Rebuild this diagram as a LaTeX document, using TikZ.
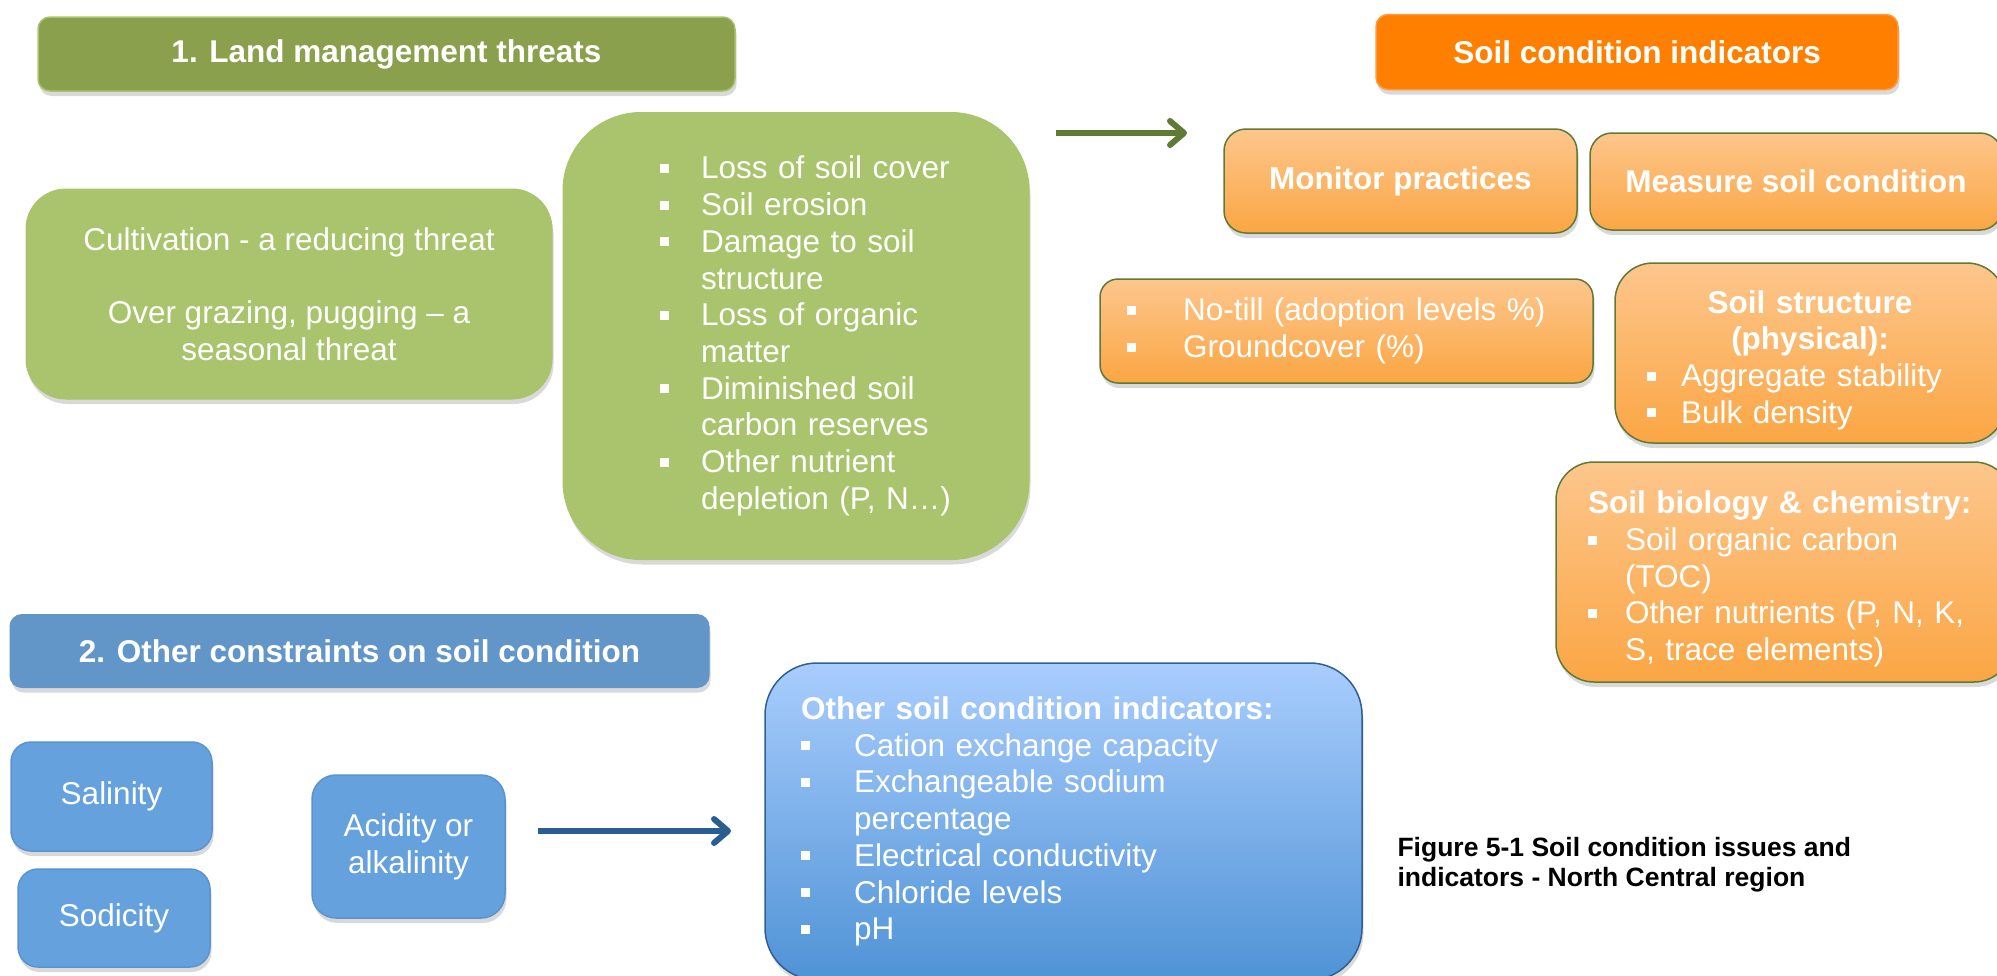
\documentclass[tikz,border=0pt]{standalone}
\usepackage{fontspec}
\setmainfont{Liberation Sans}
\usepackage{tikz}
\usetikzlibrary{shadows,arrows.meta}
\definecolor{grnhd}{HTML}{8AA04C}
\definecolor{grnfill}{HTML}{A9C46C}
\definecolor{grnarr}{HTML}{5E7A35}
\definecolor{orghd}{HTML}{FF7F00}
\definecolor{orgln}{HTML}{FF9A40}
\definecolor{orgtop}{HTML}{FDC68C}
\definecolor{orgbot}{HTML}{FBA644}
\definecolor{olv}{HTML}{5E7A35}
\definecolor{bluhd}{HTML}{6396C8}
\definecolor{blubx}{HTML}{65A1DC}
\definecolor{bluln}{HTML}{5A94D0}
\definecolor{blutop}{HTML}{A9CDFD}
\definecolor{blubot}{HTML}{4F93D6}
\definecolor{bludeep}{HTML}{2F5F93}
\definecolor{bluarr}{HTML}{2A5D90}
\newcommand{\bulsq}[1]{\makebox[#1][l]{\rule[6pt]{9pt}{9pt}}}
\newcommand{\bulin}[1]{\hspace*{#1}}

\begin{document}
\begin{tikzpicture}[x=1pt,y=-1pt,
wt/.style={text=white,font=\fontsize{31.5}{36.7}\selectfont},
wtb/.style={text=white,font=\fontsize{31.5}{36.7}\selectfont\bfseries},
shd/.style={drop shadow={opacity=0.3,shadow xshift=1.5pt,shadow yshift=-5pt}},
bx/.style n args={3}{rectangle,inner sep=0pt,rounded corners=#1,minimum width=#2,minimum height=#3,shd},
grnhead/.style={wtb,fill=grnhd,draw=grnfill,line width=1.5pt},
grnbox/.style={wt,fill=grnfill,draw=grnfill,line width=1pt},
orghead/.style={wtb,fill=orghd,draw=orgln,line width=1.5pt},
orgbox/.style={wt,top color=orgtop,bottom color=orgbot,draw=olv,line width=1.5pt},
bluhead/.style={wtb,fill=bluhd,draw=bluhd,line width=1pt},
blubox/.style={wt,fill=blubx,draw=bluln,line width=1.5pt},
bigblu/.style={wt,top color=blutop,bottom color=blubot,draw=bludeep,line width=1.5pt},
arr/.style={line width=6pt,draw=#1,-{Straight Barb[length=14pt,width=24pt,round]}}]
\useasboundingbox (0,0) rectangle (1997,975);

\node[bx={12pt}{697pt}{74pt},grnhead] (threats) at (386.5,54) {1. Land management threats};
\node[bx={40pt}{526pt}{210pt},grnbox,align=center] (cultiv) at (289,294)
   {Cultivation - a reducing threat\\ \\ Over grazing, pugging -- a\\ seasonal threat};
\node[bx={78pt}{466pt}{447pt},grnbox,inner xsep=97pt,text width=272pt,align=left] (losses) at (796,336)
   {\bulsq{41pt}\mbox{Loss of soil cover}\\ \bulsq{41pt}Soil erosion\\ \bulsq{41pt}Damage to soil\\ \bulin{41pt}structure\\
    \bulsq{41pt}Loss of organic\\ \bulin{41pt}matter\\ \bulsq{41pt}Diminished soil\\ \bulin{41pt}carbon reserves\\
    \bulsq{41pt}Other nutrient\\ \bulin{41pt}\mbox{depletion (P, N…)}};

\node[bx={12pt}{522pt}{75pt},orghead] (indic) at (1637,52) {Soil condition indicators};
\node[bx={22pt}{353pt}{104pt},orgbox,wtb] (monitor) at (1400.5,181) {Monitor practices};
\node[bx={22pt}{412pt}{97pt},orgbox,wtb] (measure) at (1796,181.5) {Measure soil condition};
\node[bx={18pt}{493pt}{104pt},orgbox,inner xsep=27pt,text width=439pt,align=left] (notill) at (1346.5,331)
   {\bulsq{56pt}No-till (adoption levels \%)\\ \bulsq{56pt}Groundcover (\%)};
\node[bx={38pt}{390pt}{180pt},orgbox,inner xsep=32pt,text width=326pt,align=left,text height=37pt] (struct) at (1810,353)
   {{\centering\bfseries Soil structure\\ (physical):\par}\bulsq{34pt}Aggregate stability\\ \bulsq{34pt}Bulk density};
\node[bx={38pt}{456pt}{220pt},orgbox,inner xsep=32pt,text width=392pt,align=left,text height=37pt] (biochem) at (1784,572)
   {{\bfseries Soil biology \& chemistry:}\\ \bulsq{37pt}Soil organic carbon\\ \bulin{37pt}(TOC)\\
    \bulsq{37pt}Other nutrients (P, N, K,\\ \bulin{37pt}S, trace elements)};

\node[bx={12pt}{699pt}{73pt},bluhead] (other) at (359.5,651) {2. Other constraints on soil condition};
\node[bx={20pt}{201pt}{109pt},blubox] (salin) at (111.5,796.5) {Salinity};
\node[bx={20pt}{192pt}{98pt},blubox] (sodic) at (114,918) {Sodicity};
\node[bx={24pt}{193pt}{143pt},blubox,align=center] (acid) at (408.5,846.5) {Acidity or\\ alkalinity};
\node[bx={52pt}{597pt}{317pt},bigblu,inner xsep=36pt,text width=525pt,align=left] (otherind) at (1063.5,821.5)
   {{\bfseries Other soil condition indicators:}\\ \bulsq{53pt}Cation exchange capacity\\ \bulsq{53pt}Exchangeable sodium\\
    \bulin{53pt}percentage\\ \bulsq{53pt}Electrical conductivity\\ \bulsq{53pt}Chloride levels\\ \bulsq{53pt}pH};

\node[anchor=west,align=left,font=\fontsize{26.5}{30}\selectfont\bfseries] (caption) at (1394,865)
   {Figure 5-1 Soil condition issues and\\ indicators - North Central region};

\coordinate (gtail) at (1056,133);
\coordinate (ghead) at (1187,133);
\coordinate (btail) at (538,831);
\coordinate (bhead) at (731,831);
\draw[arr=grnarr] (gtail) -- (ghead);
\draw[arr=bluarr] (btail) -- (bhead);
\end{tikzpicture}
\end{document}
